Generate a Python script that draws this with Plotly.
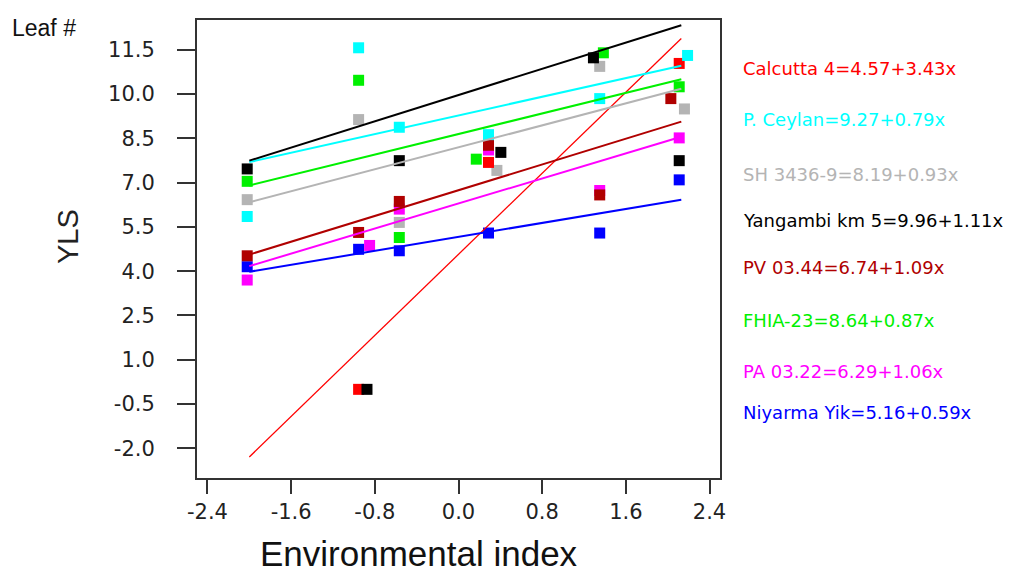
import plotly.graph_objects as go

# Genotype regression on environmental index (YLS, leaf #)
genotypes = ["Calcutta 4", "P. Ceylan", "SH 3436-9", "Yangambi km 5",
             "PV 03.44", "FHIA-23", "PA 03.22", "Niyarma Yik"]
colors = ["#FF0000", "#00FFFF", "#B4B4B4", "#000000",
          "#B00000", "#00F000", "#FF00FF", "#0000FF"]
intercepts = [4.57, 9.27, 8.19, 9.96, 6.74, 8.64, 6.29, 5.16]
slopes = [3.43, 0.79, 0.93, 1.11, 1.09, 0.87, 1.06, 0.59]

# observed values per genotype (environmental index, YLS)
obs_x = {
    "Calcutta 4":    [-0.955, 0.287, 2.11],
    "P. Ceylan":     [-2.02, -0.955, -0.566, 0.287, 1.35, 2.19],
    "SH 3436-9":     [-2.02, -0.955, -0.566, 0.367, 1.35, 2.16],
    "Yangambi km 5": [-2.02, -0.875, -0.566, 0.405, 1.29, 2.11],
    "PV 03.44":      [-2.02, -0.955, -0.566, 0.287, 1.35, 2.03],
    "FHIA-23":       [-2.02, -0.955, -0.566, 0.17, 1.385, 2.11],
    "PA 03.22":      [-2.02, -0.85, -0.566, 0.287, 1.35, 2.11],
    "Niyarma Yik":   [-2.02, -0.955, -0.566, 0.287, 1.35, 2.11],
}
obs_y = {
    "Calcutta 4":    [0.0, 7.68, 11.03],
    "P. Ceylan":     [5.85, 11.56, 8.87, 8.62, 9.84, 11.3],
    "SH 3436-9":     [6.42, 9.13, 5.65, 7.41, 10.93, 9.49],
    "Yangambi km 5": [7.46, 0.0, 7.74, 8.02, 11.22, 7.74],
    "PV 03.44":      [4.52, 5.31, 6.36, 8.26, 6.58, 9.84],
    "FHIA-23":       [7.04, 10.46, 5.14, 7.79, 11.39, 10.24],
    "PA 03.22":      [3.70, 4.87, 6.1, 8.1, 6.73, 8.51],
    "Niyarma Yik":   [4.15, 4.74, 4.69, 5.29, 5.29, 7.09],
}
fit_x = [-2.0, 2.13]

x_ticks = [-2.4, -1.6, -0.8, 0.0, 0.8, 1.6, 2.4]
y_ticks = [11.5, 10.0, 8.5, 7.0, 5.5, 4.0, 2.5, 1.0, -0.5, -2.0]

color_of = dict(zip(genotypes, colors))
marker_order = ["Niyarma Yik", "PA 03.22", "SH 3436-9", "FHIA-23",
                "Calcutta 4", "PV 03.44", "Yangambi km 5", "P. Ceylan"]

fig = go.Figure()
for g in marker_order:
    fig.add_trace(go.Scatter(
        x=obs_x[g], y=obs_y[g], mode="markers", name=g,
        marker=dict(symbol="square", size=11, color=color_of[g],
                    line=dict(width=0)),
        showlegend=False, hoverinfo="x+y+name"))

for g, c, a, b in zip(genotypes, colors, intercepts, slopes):
    fig.add_trace(go.Scatter(
        x=fit_x, y=[a + b * v for v in fit_x], mode="lines", name=g,
        line=dict(color=c, width=1.3 if g == "Calcutta 4" else 2),
        showlegend=False, hoverinfo="skip"))

# equation labels to the right of the plot
label_py = [68, 120, 175, 221, 267, 321, 371, 412]
plot_top, plot_h = 20, 458
annotations = []
for g, c, a, b, py in zip(genotypes, colors, intercepts, slopes, label_py):
    annotations.append(dict(
        text=f"{g}={a:.2f}+{b:.2f}x", xref="paper", yref="paper",
        x=(741 - 197) / 523, y=(plot_top + plot_h - py) / plot_h,
        xanchor="left", yanchor="middle", showarrow=False,
        font=dict(family="DejaVu Sans", size=18, color=c)))

annotations.append(dict(
    text="Leaf #", xref="paper", yref="paper",
    x=(10 - 197) / 523, y=(478 - 28) / 458, xanchor="left", yanchor="middle",
    showarrow=False, font=dict(family="Liberation Sans", size=23, color="#111")))
annotations.append(dict(
    text="YLS", xref="paper", yref="paper", textangle=-90,
    x=(68 - 197) / 523, y=(478 - 237) / 458, xanchor="center", yanchor="middle",
    showarrow=False, font=dict(family="Liberation Sans", size=29, color="#222")))
annotations.append(dict(
    text="Environmental index", xref="paper", yref="paper",
    x=(419 - 197) / 523, y=(478 - 553) / 458, xanchor="center", yanchor="middle",
    showarrow=False, font=dict(family="Liberation Sans", size=35, color="#111")))

fig.update_layout(
    width=1017, height=576,
    margin=dict(l=197, r=297, t=20, b=98),
    paper_bgcolor="white", plot_bgcolor="white",
    annotations=annotations,
    xaxis=dict(range=[-2.5, 2.5], tickvals=x_ticks,
               ticktext=[f"{v:.1f}" for v in x_ticks],
               showgrid=False, zeroline=False, showline=True, mirror=True,
               linecolor="#333", linewidth=2, ticks="outside", ticklen=14,
               tickwidth=2, tickcolor="#333",
               tickfont=dict(family="DejaVu Sans", size=21, color="#222")),
    yaxis=dict(range=[-3.0, 12.5], tickvals=y_ticks,
               ticktext=[f"{v:.1f}" for v in y_ticks],
               showgrid=False, zeroline=False, showline=True, mirror=True,
               linecolor="#333", linewidth=2, ticks="outside", ticklen=18,
               tickwidth=2, tickcolor="#333", ticklabelstandoff=18,
               tickfont=dict(family="DejaVu Sans", size=21, color="#222")),
)

fig.write_html("out.html")
